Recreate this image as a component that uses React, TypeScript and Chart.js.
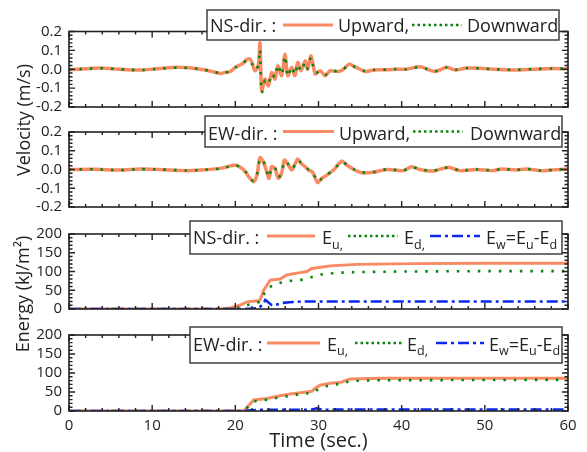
import React, { useEffect, useRef } from 'react';
import { Chart, registerables } from 'chart.js';
Chart.register(...registerables);

const W = 587;
const H = 452;
const FONT = "'Open Sans', 'Noto Sans', sans-serif";
const INK = '#222222';
const ORANGE = '#f98a63';
const GREEN = '#0b850b';
const BLUE = '#0a28f0';

// ---------- data ----------
const nsTime = [0, 2, 3.7, 5.5, 6.9, 8.9, 10.9, 13.3, 15.8, 17.0, 18.2, 18.75, 19.4, 20.0, 20.8, 21.36, 21.76, 22.0, 22.36, 22.76, 22.96, 23.17, 23.57, 23.97, 24.37, 24.77, 25.1, 25.57, 25.97, 26.3, 26.78, 27.17, 27.5, 27.9, 28.4, 28.7, 29.1, 29.6, 30.2, 30.8, 31.4, 32.4, 33.0, 33.7, 34.4, 35.6, 36.6, 38.2, 39.4, 40.6, 42.2, 44.0, 45.4, 46.4, 47.8, 49.4, 51.0, 53.4, 55.8, 58.2, 60];
const nsUp = [-0.002, 0.002, 0.006, 0.002, -0.003, -0.004, 0.004, 0.010, 0.000, -0.010, -0.022, -0.017, -0.012, 0.010, 0.028, 0.050, 0.054, 0.035, -0.008, 0.018, 0.139, -0.114, -0.052, -0.087, -0.017, -0.052, 0.018, -0.034, 0.080, -0.034, 0.010, -0.034, 0.036, -0.008, 0.045, 0.000, 0.071, -0.025, -0.008, -0.034, -0.008, -0.012, 0.000, 0.027, 0.013, -0.012, -0.004, -0.003, 0.000, 0.000, 0.013, -0.012, 0.010, -0.004, 0.006, 0.005, 0.000, -0.004, 0.000, 0.004, 0.002];
const nsDown = [-0.002, 0.002, 0.005, 0.002, -0.002, -0.004, 0.003, 0.009, 0.001, -0.010, -0.021, -0.018, -0.011, 0.009, 0.030, 0.046, 0.050, 0.030, -0.005, 0.020, 0.105, -0.125, -0.060, -0.080, -0.022, -0.045, 0.025, -0.030, 0.072, -0.040, 0.015, -0.030, 0.030, -0.012, 0.040, 0.004, 0.065, -0.020, -0.010, -0.030, -0.010, -0.010, 0.002, 0.024, 0.012, -0.010, -0.004, -0.002, 0.001, 0.000, 0.011, -0.010, 0.009, -0.003, 0.005, 0.005, 0.000, -0.003, 0.001, 0.004, 0.002];

const ewTime = [0, 3, 6.1, 8.5, 10.9, 14.1, 15.8, 18.2, 20.0, 20.6, 21.2, 21.76, 22.2, 22.6, 22.96, 23.36, 23.77, 24.05, 24.37, 24.77, 25.17, 25.57, 25.9, 26.37, 26.78, 27.17, 27.5, 27.9, 28.4, 28.8, 29.25, 29.9, 30.4, 31.0, 31.8, 32.8, 33.4, 34.2, 35.2, 36.6, 38.2, 40.2, 41.2, 42.2, 43.8, 45.6, 47, 49, 51, 52, 53.8, 55, 56.6, 58.2, 60];
const ewUp = [0, 0.001, -0.003, 0.003, 0, -0.006, -0.003, 0.006, 0.024, 0.012, -0.012, -0.047, -0.065, -0.030, 0.063, 0.042, -0.012, -0.047, 0.015, 0.006, -0.047, -0.020, 0.050, 0.024, -0.003, 0.028, 0.056, 0.033, 0.015, -0.003, -0.012, -0.070, -0.047, -0.030, -0.003, 0.045, 0.024, 0.001, -0.017, -0.015, 0, -0.006, 0.015, 0, -0.008, 0.012, -0.006, 0, -0.006, 0.003, -0.002, 0.003, -0.006, -0.002, 0.003];
const ewDown = [0, 0.001, -0.003, 0.002, 0, -0.005, -0.003, 0.005, 0.022, 0.013, -0.010, -0.045, -0.062, -0.028, 0.058, 0.045, -0.008, -0.044, 0.012, 0.010, -0.042, -0.018, 0.045, 0.028, 0.000, 0.025, 0.050, 0.036, 0.018, 0.000, -0.010, -0.066, -0.048, -0.028, -0.002, 0.042, 0.025, 0.002, -0.015, -0.014, 0.001, -0.005, 0.013, 0.001, -0.007, 0.011, -0.005, 0.000, -0.005, 0.003, -0.002, 0.003, -0.005, -0.002, 0.003];

const nsEuTime = [0, 18, 19.4, 20.5, 21.4, 22.8, 23.0, 23.4, 24.2, 25.4, 26.2, 27.0, 27.8, 28.6, 29.2, 31.4, 34.6, 41.4, 50, 60];
const nsEu = [0, 0, 3, 10, 19, 22, 25, 50, 77, 80, 91, 94, 97, 100, 108, 115, 119, 121, 122, 122];
const nsEdTime = [0, 19, 20.5, 21.4, 22.8, 23.0, 23.8, 25.0, 26.6, 27.8, 29.0, 30.2, 31.0, 33.4, 40, 50, 60];
const nsEd = [0, 0, 4, 10, 18, 21, 55, 68, 75, 77, 84, 92, 94, 98, 100, 101, 101];
const nsEwTime = [0, 21, 22.8, 23.3, 23.6, 24.4, 25.0, 25.6, 26.5, 28, 30, 35, 45, 60];
const nsEw = [0, 0, 2, 12, 24, 10, 12, 16, 18, 20, 20, 20, 20, 20];

const ewEuTime = [0, 21.0, 21.5, 22.2, 23.8, 25.4, 26.6, 27.4, 29.2, 29.6, 30.2, 31.4, 32.8, 33.2, 33.8, 37.4, 45, 60];
const ewEu = [0, 0, 12, 29, 33, 40, 45, 47, 52, 60, 68, 73, 76, 80, 84, 86, 86, 86];
const ewEdTime = [0, 21.0, 21.5, 22.2, 23.8, 25.4, 27.4, 29.2, 30.2, 31.4, 32.8, 33.8, 37, 60];
const ewEd = [0, 0, 10, 25, 30, 36, 43, 48, 60, 68, 72, 79, 81, 82];
const ewEwTime = [0, 21, 22, 23, 25, 27, 29, 29.8, 30.5, 32, 35, 60];
const ewEw = [0, 0, 2, 3, 3, 3, 3, 7, 3, 4, 4, 4];

const xTicksMajor = 10;
const xTicksMinor = 2;

// ---------- helpers ----------
const pts = (t: number[], v: number[]) => t.map((x, i) => ({ x, y: v[i] }));

type Seg = { t: string; sub?: boolean };
type LegItem =
  | { kind: 'text'; x: number; segs: Seg[] }
  | { kind: 'line'; x0: number; x1: number; color: string; dash: number[]; width: number };

type Panel = {
  top: number;
  bottom: number;
  yMin: number;
  yMax: number;
  yMajor: number;
  yMinor: number;
  fmt: (v: number) => string;
  showX: boolean;
  datasets: any[];
  box: [number, number, number, number];
  baseline: number;
  lineY: number;
  items: LegItem[];
  extra?: (ctx: CanvasRenderingContext2D) => void;
};

const LEG_FONT = 18;
const SUB_FONT = 12.5;

function drawSegs(ctx: CanvasRenderingContext2D, x: number, y: number, segs: Seg[]) {
  let cx = x;
  for (const s of segs) {
    if (s.sub) {
      ctx.font = `${SUB_FONT}px ${FONT}`;
      ctx.fillText(s.t, cx, y + 4.5);
    } else {
      ctx.font = `${LEG_FONT}px ${FONT}`;
      ctx.fillText(s.t, cx, y);
    }
    cx += ctx.measureText(s.t).width;
  }
}

function makeDeco(p: Panel) {
  return {
    id: 'deco',
    afterDraw(chart: any) {
      const { ctx, chartArea: a, scales } = chart;
      const xs = scales.x;
      const ys = scales.y;
      ctx.save();
      ctx.strokeStyle = INK;
      ctx.lineWidth = 1.4;
      ctx.beginPath();
      const nx = Math.round(60 / xTicksMinor);
      for (let i = 0; i <= nx; i++) {
        const t = i * xTicksMinor;
        const px = xs.getPixelForValue(t);
        const major = Math.abs(t / xTicksMajor - Math.round(t / xTicksMajor)) < 1e-6;
        const len = major ? 6 : 3;
        ctx.moveTo(px, a.bottom);
        ctx.lineTo(px, a.bottom - len);
        ctx.moveTo(px, a.top);
        ctx.lineTo(px, a.top + len);
      }
      const ny = Math.round((p.yMax - p.yMin) / p.yMinor);
      for (let i = 0; i <= ny; i++) {
        const v = p.yMin + i * p.yMinor;
        const py = ys.getPixelForValue(v);
        const r = v / p.yMajor;
        const major = Math.abs(r - Math.round(r)) < 1e-6;
        const len = major ? 6 : 3.5;
        ctx.moveTo(a.left, py);
        ctx.lineTo(a.left + len, py);
        ctx.moveTo(a.right, py);
        ctx.lineTo(a.right - len, py);
      }
      ctx.stroke();
      ctx.lineWidth = 1.6;
      ctx.strokeRect(a.left, a.top, a.right - a.left, a.bottom - a.top);

      // legend box
      const [bx0, by0, bx1, by1] = p.box;
      ctx.fillStyle = '#ffffff';
      ctx.fillRect(bx0, by0, bx1 - bx0, by1 - by0);
      ctx.lineWidth = 1.4;
      ctx.strokeStyle = '#333333';
      ctx.strokeRect(bx0, by0, bx1 - bx0, by1 - by0);
      ctx.textBaseline = 'alphabetic';
      ctx.textAlign = 'left';
      for (const it of p.items) {
        if (it.kind === 'text') {
          ctx.fillStyle = INK;
          drawSegs(ctx, it.x, p.baseline, it.segs);
        } else {
          ctx.beginPath();
          ctx.strokeStyle = it.color;
          ctx.lineWidth = it.width;
          ctx.setLineDash(it.dash);
          ctx.moveTo(it.x0, p.lineY);
          ctx.lineTo(it.x1, p.lineY);
          ctx.stroke();
          ctx.setLineDash([]);
        }
      }
      if (p.extra) p.extra(ctx);
      ctx.restore();
    },
  };
}

function rotText(ctx: CanvasRenderingContext2D, text: string, x: number, y: number, size: number) {
  ctx.save();
  ctx.translate(x, y);
  ctx.rotate(-Math.PI / 2);
  ctx.font = `${size}px ${FONT}`;
  ctx.fillStyle = INK;
  ctx.textAlign = 'center';
  ctx.textBaseline = 'middle';
  ctx.fillText(text, 0, 0);
  ctx.restore();
}

// "order": higher numbers are drawn first (underneath)
const upDs = (data: any, tension: number, width: number) => ({
  data, order: 3, borderColor: ORANGE, borderWidth: width, pointRadius: 0, tension, fill: false,
});
const downDs = (data: any, tension: number) => ({
  data, order: 2, borderColor: GREEN, borderWidth: 2.6, borderDash: [2.5, 8], borderCapStyle: 'butt', pointRadius: 0, tension, fill: false,
});
const wDs = (data: any) => ({
  data, order: 1, borderColor: BLUE, borderWidth: 2.6, borderDash: [11, 4, 3, 4], pointRadius: 0, tension: 0, fill: false,
});

const panels: Panel[] = [
  {
    top: 31.5, bottom: 107, yMin: -0.2, yMax: 0.2, yMajor: 0.1, yMinor: 0.02,
    fmt: (v) => v.toFixed(1), showX: false,
    datasets: [upDs(pts(nsTime, nsUp), 0.25, 3.5), downDs(pts(nsTime, nsDown), 0.25)],
    box: [207, 10, 559, 40], baseline: 31.5, lineY: 25,
    items: [
      { kind: 'text', x: 210, segs: [{ t: 'NS-dir. :' }] },
      { kind: 'line', x0: 283, x1: 333, color: ORANGE, dash: [], width: 3 },
      { kind: 'text', x: 338, segs: [{ t: 'Upward,' }] },
      { kind: 'line', x0: 412, x1: 462, color: GREEN, dash: [2.5, 3], width: 2.6 },
      { kind: 'text', x: 467, segs: [{ t: 'Downward' }] },
    ],
    extra: (ctx) => rotText(ctx, 'Velocity (m/s)', 25, 120, 18),
  },
  {
    top: 132, bottom: 207, yMin: -0.2, yMax: 0.2, yMajor: 0.1, yMinor: 0.02,
    fmt: (v) => v.toFixed(1), showX: false,
    datasets: [upDs(pts(ewTime, ewUp), 0.25, 3.5), downDs(pts(ewTime, ewDown), 0.25)],
    box: [205, 116, 562, 147], baseline: 140, lineY: 131.5,
    items: [
      { kind: 'text', x: 208, segs: [{ t: 'EW-dir. :' }] },
      { kind: 'line', x0: 283, x1: 334, color: ORANGE, dash: [], width: 3 },
      { kind: 'text', x: 339, segs: [{ t: 'Upward,' }] },
      { kind: 'line', x0: 413, x1: 463, color: GREEN, dash: [2.5, 3], width: 2.6 },
      { kind: 'text', x: 470, segs: [{ t: 'Downward' }] },
    ],
  },
  {
    top: 234, bottom: 309, yMin: 0, yMax: 200, yMajor: 50, yMinor: 10,
    fmt: (v) => String(v), showX: false,
    datasets: [upDs(pts(nsEuTime, nsEu), 0, 3), downDs(pts(nsEdTime, nsEd), 0), wDs(pts(nsEwTime, nsEw))],
    box: [190, 221, 562, 254], baseline: 244, lineY: 236,
    items: [
      { kind: 'text', x: 193, segs: [{ t: 'NS-dir. :' }] },
      { kind: 'line', x0: 267, x1: 315, color: ORANGE, dash: [], width: 3 },
      { kind: 'text', x: 322, segs: [{ t: 'E' }, { t: 'u,', sub: true }] },
      { kind: 'line', x0: 348, x1: 398, color: GREEN, dash: [2.5, 3], width: 2.6 },
      { kind: 'text', x: 404, segs: [{ t: 'E' }, { t: 'd,', sub: true }] },
      { kind: 'line', x0: 430, x1: 480, color: BLUE, dash: [11, 4, 3, 4], width: 2.6 },
      { kind: 'text', x: 486, segs: [{ t: 'E' }, { t: 'w', sub: true }, { t: '=E' }, { t: 'u', sub: true }, { t: '-E' }, { t: 'd', sub: true }] },
    ],
    extra: (ctx) => rotText(ctx, 'Energy (kJ/m²)', 24, 294, 18),
  },
  {
    top: 335, bottom: 411, yMin: 0, yMax: 200, yMajor: 50, yMinor: 10,
    fmt: (v) => String(v), showX: true,
    datasets: [upDs(pts(ewEuTime, ewEu), 0, 3), downDs(pts(ewEdTime, ewEd), 0), wDs(pts(ewEwTime, ewEw))],
    box: [190, 327, 562, 363], baseline: 350.5, lineY: 343,
    items: [
      { kind: 'text', x: 193, segs: [{ t: 'EW-dir. :' }] },
      { kind: 'line', x0: 267, x1: 320, color: ORANGE, dash: [], width: 3 },
      { kind: 'text', x: 327, segs: [{ t: 'E' }, { t: 'u,', sub: true }] },
      { kind: 'line', x0: 355, x1: 402, color: GREEN, dash: [2.5, 3], width: 2.6 },
      { kind: 'text', x: 407, segs: [{ t: 'E' }, { t: 'd,', sub: true }] },
      { kind: 'line', x0: 436, x1: 484, color: BLUE, dash: [11, 4, 3, 4], width: 2.6 },
      { kind: 'text', x: 489, segs: [{ t: 'E' }, { t: 'w', sub: true }, { t: '=E' }, { t: 'u', sub: true }, { t: '-E' }, { t: 'd', sub: true }] },
    ],
  },
];

const PLOT_LEFT = 69;
const PLOT_RIGHT = 568;

function buildChart(canvas: HTMLCanvasElement, p: Panel) {
  const xHeight = p.showX ? H - p.bottom : 0;
  return new Chart(canvas, {
    type: 'line',
    data: { datasets: p.datasets },
    options: {
      responsive: false,
      animation: false,
      devicePixelRatio: 1,
      events: [],
      layout: {
        padding: { left: 0, right: W - PLOT_RIGHT, top: p.top, bottom: p.showX ? 0 : H - p.bottom },
      },
      plugins: { legend: { display: false }, tooltip: { enabled: false } },
      scales: {
        x: {
          type: 'linear', min: 0, max: 60,
          afterFit: (s: any) => { s.height = xHeight; },
          grid: { display: false, drawTicks: false },
          border: { display: false },
          ticks: { display: p.showX, stepSize: 10, padding: 6, color: INK, font: { family: FONT, size: 15 }, maxRotation: 0 },
          title: { display: p.showX, text: 'Time (sec.)', color: INK, font: { family: FONT, size: 20 }, padding: { top: 0, bottom: -1 } },
        },
        y: {
          type: 'linear', min: p.yMin, max: p.yMax,
          afterFit: (s: any) => { s.width = PLOT_LEFT; },
          grid: { display: false, drawTicks: false },
          border: { display: false },
          ticks: { stepSize: p.yMajor, autoSkip: false, padding: 7, color: INK, font: { family: FONT, size: 15 }, callback: (v: any) => p.fmt(Number(v)) },
        },
      },
    } as any,
    plugins: [makeDeco(p)],
  });
}

export default function App() {
  const refs = [useRef<HTMLCanvasElement>(null), useRef<HTMLCanvasElement>(null), useRef<HTMLCanvasElement>(null), useRef<HTMLCanvasElement>(null)];
  useEffect(() => {
    const charts = panels.map((p, i) => buildChart(refs[i].current as HTMLCanvasElement, p));
    return () => charts.forEach((c) => c.destroy());
  }, []);
  return (
    <div style={{ position: 'absolute', left: 0, top: 0, width: W, height: H, background: '#fff', overflow: 'hidden' }}>
      {panels.map((_, i) => (
        <canvas key={i} ref={refs[i]} width={W} height={H} style={{ position: 'absolute', left: 0, top: 0, width: W, height: H }} />
      ))}
    </div>
  );
}
